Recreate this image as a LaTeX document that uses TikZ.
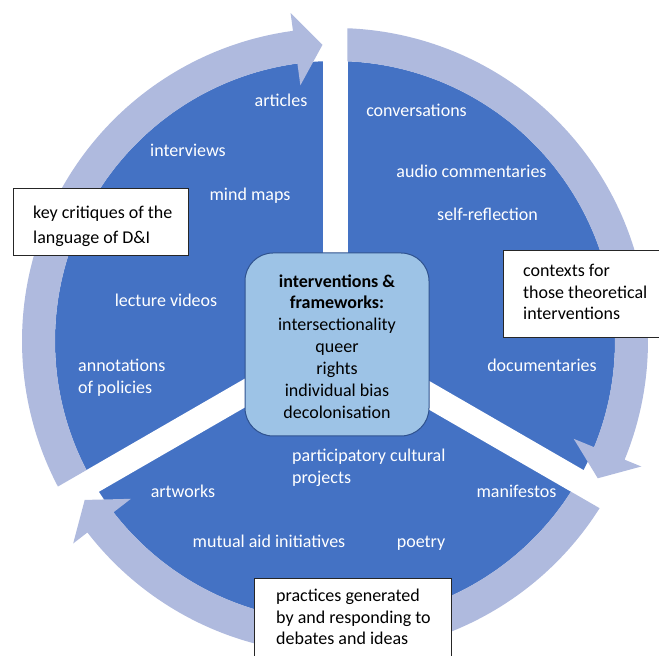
\documentclass[tikz,border=0pt]{standalone}
\usepackage{fontspec}
\setmainfont{Carlito}
\usetikzlibrary{calc}
\definecolor{segblue}{RGB}{68,114,196}
\definecolor{ringblue}{RGB}{175,186,222}
\definecolor{hubfill}{RGB}{157,195,230}
\definecolor{hubline}{RGB}{47,82,143}
\begin{document}
\begin{tikzpicture}[x=1pt,y=1pt,
  lbl/.style={text=white, font=\fontsize{18}{22}\selectfont, inner sep=0pt},
  hub/.style={draw=hubline, fill=hubfill, line width=1pt, rounded corners=28pt,
    minimum width=184pt, minimum height=183pt, align=center, inner sep=0pt,
    font=\fontsize{18}{21.9}\selectfont},
  notebox/.style={draw=black!85, fill=white, line width=0.9pt, inner sep=0pt,
    anchor=north west},
  notetext/.style={inner sep=0pt, anchor=base west, text=black}]
\useasboundingbox (0,0) rectangle (659,656);
\clip (0,0) rectangle (659,656);
\coordinate (C) at (335,315);

% three blue segments: a disc split by white strips
\fill[segblue] (C) circle[radius=280pt];
\foreach \a in {90,-30,210}
  \draw[white, line width=25pt] (C) -- ($(C)+(\a:345pt)$);

% circular arrows around the segments, running clockwise
\foreach \s in {90,-30,210}{
  \pgfmathsetmacro\e{\s-120}
  \pgfmathsetmacro\so{\s-asin(12.5/313)}
  \pgfmathsetmacro\si{\s-asin(12.5/280)}
  \pgfmathsetmacro\tp{\e+asin(12.5/296.5)}
  \pgfmathsetmacro\hb{\tp+5.3}
  \fill[ringblue] ($(C)+(\so:313pt)$)
    arc[start angle=\so, end angle=\hb, radius=313pt]
    -- ($(C)+(\hb:331pt)$) -- ($(C)+(\tp:296.5pt)$) -- ($(C)+(\hb:258pt)$)
    -- ($(C)+(\hb:280pt)$)
    arc[start angle=\hb, end angle=\si, radius=280pt] -- cycle;
}

% central hub
\node[hub] (hub) at (337,311.5) {};
\node[align=center, inner sep=0pt, font=\fontsize{18}{21.9}\selectfont] (hubtext) at (337,309.5)
  {\textbf{interventions \&}\\\textbf{frameworks:}\\intersectionality\\queer\\rights\\individual bias\\decolonisation};

% upper-left segment
\node[lbl, anchor=base] (articles) at (281,549) {articles};
\node[lbl, anchor=base] (interviews) at (188,499) {interviews};
\node[lbl, anchor=base] (mindmaps) at (250,455) {mind maps};
\node[lbl, anchor=base] (lecture) at (166,349) {lecture videos};
\node[lbl, anchor=base west] (annot) at (78,284) {annotations};
\node[lbl, anchor=base west] (policies) at (78,262) {of policies};

% right segment
\node[lbl, anchor=base] (conv) at (416.5,539) {conversations};
\node[lbl, anchor=base] (audio) at (471.5,478) {audio commentaries};
\node[lbl, anchor=base] (selfref) at (487.5,435) {self-reflection};
\node[lbl, anchor=base] (docs) at (542,284) {documentaries};

% lower segment
\node[lbl, anchor=base west] (partic) at (292,194) {participatory cultural};
\node[lbl, anchor=base west] (projects) at (292,172) {projects};
\node[lbl, anchor=base] (manif) at (516.5,158) {manifestos};
\node[lbl, anchor=base] (artworks) at (183,158) {artworks};
\node[lbl, anchor=base] (mutual) at (269,108) {mutual aid initiatives};
\node[lbl, anchor=base] (poetry) at (421,108) {poetry};

% note boxes
\node[notebox, minimum width=175pt, minimum height=67pt] (critbox) at (13,468) {};
\node[notetext, font=\fontsize{18}{24.5}\selectfont] (crittext) at (33,437)
  {\parbox[t]{160pt}{key critiques of the\\language of D\&I}};

\node[notebox, minimum width=170pt, minimum height=87pt] (ctxbox) at (503,406) {};
\node[notetext, font=\fontsize{18}{21.5}\selectfont] (ctxtext) at (523,379)
  {\parbox[t]{140pt}{contexts for\\those theoretical\\interventions}};

\node[notebox, minimum width=197pt, minimum height=95pt] (pracbox) at (254,78) {};
\node[notetext, font=\fontsize{18}{21.5}\selectfont] (practext) at (276,54)
  {\parbox[t]{175pt}{practices generated\\by and responding to\\debates and ideas}};
\end{tikzpicture}
\end{document}
